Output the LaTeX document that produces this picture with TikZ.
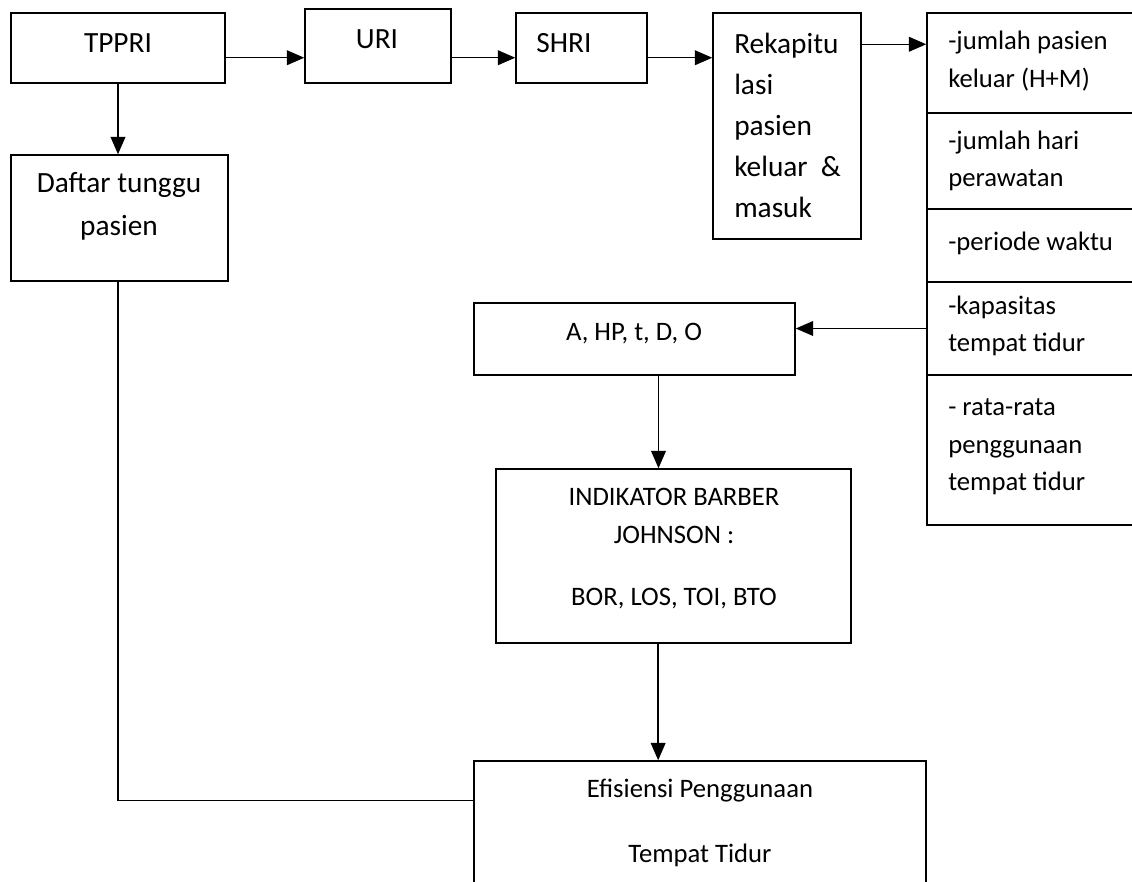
\documentclass[tikz,border=0pt]{standalone}
\usepackage{fontspec}
\setmainfont{Carlito}
\usetikzlibrary{arrows.meta,fit}
\tikzset{
  box/.style={draw, line width=1.1pt, inner sep=0pt},
  txt/.style={inner sep=0pt, font=\fontsize{20}{28}\selectfont},
  big/.style={font=\fontsize{22}{30.75}\selectfont},
  arr/.style={line width=1.1pt, -{Triangle[length=13pt,width=11pt]}},
  ln/.style={line width=1.1pt}
}
\begin{document}
\begin{tikzpicture}[x=0.75pt,y=0.75pt,yscale=-1,xscale=1]
\useasboundingbox (0,0) rectangle (1132,882);
\clip (0,0) rectangle (1132,882);

%Shape: Rectangle (top row)
\node[box, fit={(11,13) (225,83)}] (tppri) {};
\node[box, fit={(305,9) (451,83)}] (uri) {};
\node[box, fit={(516,13) (647,83)}] (shri) {};
\node[box, fit={(713,13) (861,239)}] (rekap) {};
\node[box, fit={(11,155) (228,281)}] (daftar) {};

%Shape: Rectangle (data column)
\node[box, fit={(927,13) (1145,113)}] (cellA) {};
\node[box, fit={(927,113) (1145,209)}] (cellB) {};
\node[box, fit={(927,209) (1145,282)}] (cellC) {};
\node[box, fit={(927,282) (1145,375)}] (cellD) {};
\node[box, fit={(927,375) (1145,525)}] (cellE) {};

%Shape: Rectangle (lower part)
\node[box, fit={(474,303) (795,375)}] (abox) {};
\node[box, fit={(496,469) (851,643)}] (indik) {};
\node[box, fit={(474,761) (926,900)}] (efis) {};

%Texts
\node[txt, big] (tppriT) at (118,43) {TPPRI};
\node[txt, big] (uriT) at (377,39) {URI};
\node[txt, big] (shriT) at (564,43) {SHRI};
\node[txt, big, align=left, anchor=west] (rekapT) at (734,125) {Rekapitu\\lasi\\pasien\\keluar\ \ \&\\masuk};
\node[txt, align=center, font=\fontsize{22}{32.25}\selectfont] (daftarT) at (119,206) {Daftar tunggu\\pasien};

\node[txt, align=left, anchor=west] (cellAT) at (948,61) {-jumlah pasien\\keluar (H+M)};
\node[txt, align=left, anchor=west] (cellBT) at (948,161) {-jumlah hari\\perawatan};
\node[txt, align=left, anchor=west] (cellCT) at (948,243) {-periode waktu};
\node[txt, align=left, anchor=west] (cellDT) at (948,326) {-kapasitas\\tempat tidur};
\node[txt, align=left, anchor=west] (cellET) at (948,447) {- rata-rata\\penggunaan\\tempat tidur};

\node[txt] (aboxT) at (634,334) {A, HP, t, D, O};
\node[txt, align=center] (indikT) at (674,516) {INDIKATOR BARBER\\JOHNSON :};
\node[txt] (indikU) at (674,599) {BOR, LOS, TOI, BTO};
\node[txt] (efisT) at (700,791) {Efisiensi Penggunaan};
\node[txt] (efisU) at (700,855) {Tempat Tidur};

%Straight Lines [arrows]
\draw[arr] ([yshift=-19.5pt]tppri.south east) coordinate (r1) -- (r1 -| uri.west);
\draw[arr] ([yshift=-19.5pt]uri.south east) coordinate (r2) -- (r2 -| shri.west);
\draw[arr] ([yshift=-19.5pt]shri.south east) coordinate (r3) -- (r3 -| rekap.west);
\draw[arr] ([yshift=24pt]rekap.north east) coordinate (r4) -- (r4 -| cellA.west);
\draw[arr] (tppri.south) -- (tppri.south |- daftar.north);
\draw[arr] (cellD.west) -- (cellD.west -| abox.east);
\draw[arr] ([xshift=18pt]abox.south) -- ([xshift=18pt]abox.south |- indik.north);
\draw[arr] ([xshift=-11.5pt]indik.south) -- ([xshift=-11.5pt]indik.south |- efis.north);

%Straight Lines
\draw[ln] (tppri.south |- daftar.south) |- ([yshift=30pt]efis.north west);

\end{tikzpicture}
\end{document}
